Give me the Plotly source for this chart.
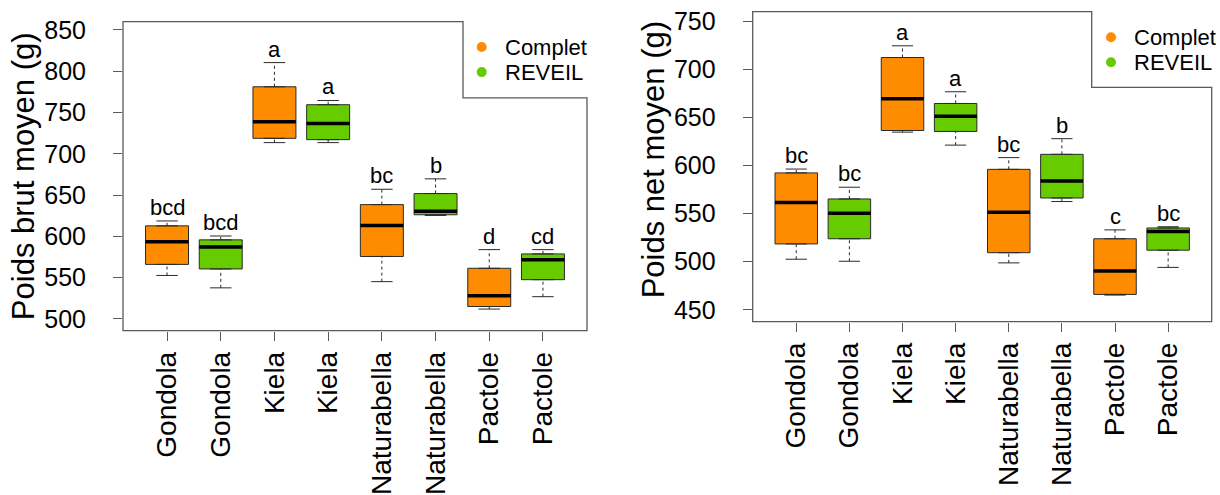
import plotly.graph_objects as go

# ---------------- data ----------------
categories = ["Gondola", "Gondola", "Kiela", "Kiela",
              "Naturabella", "Naturabella", "Pactole", "Pactole"]
groups = ["Complet", "REVEIL", "Complet", "REVEIL",
          "Complet", "REVEIL", "Complet", "REVEIL"]
legend_labels = ["Complet", "REVEIL"]

# Poids brut moyen (g)
brut_lower = [552.6, 537.6, 713.5, 713.5, 545.1, 625.3, 511.9, 526.9]
brut_q1 = [566.0, 560.5, 718.7, 717.1, 575.6, 626.1, 515.0, 547.5]
brut_median = [593.3, 587.0, 738.8, 736.5, 613.1, 630.5, 528.1, 571.6]
brut_q3 = [612.7, 595.7, 781.1, 759.4, 638.4, 651.8, 561.3, 578.7]
brut_upper = [618.6, 600.4, 810.4, 764.5, 657.0, 669.6, 583.9, 583.9]
brut_letters = ["bcd", "bcd", "a", "a", "bc", "b", "d", "cd"]

# Poids net moyen (g)
net_lower = [502.6, 500.5, 634.8, 621.3, 498.8, 562.6, 465.3, 494.1]
net_q1 = [518.5, 523.9, 636.5, 635.5, 509.4, 566.3, 466.0, 512.0]
net_median = [561.6, 550.4, 669.4, 651.4, 551.4, 583.9, 490.4, 531.4]
net_q3 = [592.4, 565.3, 712.4, 664.6, 596.1, 611.7, 523.9, 535.1]
net_upper = [596.4, 577.5, 724.6, 676.8, 608.3, 628.0, 533.1, 536.4]
net_letters = ["bc", "bc", "a", "a", "bc", "b", "c", "bc"]

brut_ticks = [500, 550, 600, 650, 700, 750, 800, 850]
net_ticks = [450, 500, 550, 600, 650, 700, 750]

# ---------------- style ----------------
COLORS = {"Complet": "#FF8C00", "REVEIL": "#66CC00"}
FONT = "Liberation Sans, Arial, sans-serif"
BOX_W = 0.8
CAP_W = 0.4
FRAME = "#5a5a5a"
W, H = 1220, 495

positions = list(range(1, len(categories) + 1))

fig = go.Figure()


def add_panel(xref, yref, lower, q1, med, q3, upper, letters):
    for g in legend_labels:
        idx = [i for i, gg in enumerate(groups) if gg == g]
        fig.add_trace(go.Box(
            x=[positions[i] for i in idx],
            q1=[q1[i] for i in idx],
            median=[med[i] for i in idx],
            q3=[q3[i] for i in idx],
            lowerfence=[q1[i] for i in idx],
            upperfence=[q3[i] for i in idx],
            width=BOX_W,
            fillcolor=COLORS[g],
            line=dict(color="#2a2a2a", width=1),
            boxpoints=False,
            showlegend=False,
            hoverinfo="skip",
            xaxis=xref, yaxis=yref,
        ))
    # dashed whiskers
    wx, wy = [], []
    for p, lo, a, b, hi in zip(positions, lower, q1, q3, upper):
        wx += [p, p, None, p, p, None]
        wy += [b, hi, None, lo, a, None]
    fig.add_trace(go.Scatter(x=wx, y=wy, mode="lines",
                             line=dict(color="#2a2a2a", width=1, dash="3px,3px"),
                             showlegend=False, hoverinfo="skip",
                             xaxis=xref, yaxis=yref))
    # caps
    cx, cy = [], []
    for p, lo, hi in zip(positions, lower, upper):
        cx += [p - CAP_W / 2, p + CAP_W / 2, None, p - CAP_W / 2, p + CAP_W / 2, None]
        cy += [hi, hi, None, lo, lo, None]
    fig.add_trace(go.Scatter(x=cx, y=cy, mode="lines",
                             line=dict(color="#2a2a2a", width=1),
                             showlegend=False, hoverinfo="skip",
                             xaxis=xref, yaxis=yref))
    # thick medians
    mx, my = [], []
    for p, m in zip(positions, med):
        mx += [p - BOX_W / 2, p + BOX_W / 2, None]
        my += [m, m, None]
    fig.add_trace(go.Scatter(x=mx, y=my, mode="lines",
                             line=dict(color="black", width=3.5),
                             showlegend=False, hoverinfo="skip",
                             xaxis=xref, yaxis=yref))
    # letters
    for p, hi, t in zip(positions, upper, letters):
        fig.add_annotation(x=p, y=hi, text=t, xref=xref, yref=yref,
                           showarrow=False, yanchor="bottom", yshift=-1,
                           font=dict(family=FONT, size=22, color="black"))


add_panel("x", "y", brut_lower, brut_q1, brut_median, brut_q3, brut_upper,
          brut_letters)
add_panel("x2", "y2", net_lower, net_q1, net_median, net_q3, net_upper,
          net_letters)


def add_legend(x_px, y_px, spacing):
    for k, g in enumerate(legend_labels):
        yp = 1 - (y_px + k * spacing) / H
        fig.add_shape(type="circle", xref="paper", yref="paper",
                      xsizemode="pixel", ysizemode="pixel",
                      xanchor=x_px / W, yanchor=yp,
                      x0=-5, x1=5, y0=-5, y1=5,
                      fillcolor=COLORS[g], line=dict(width=0))
        fig.add_annotation(text=g, xref="paper", yref="paper",
                           x=(x_px + 21) / W, y=yp, xanchor="left",
                           yanchor="middle", showarrow=False,
                           font=dict(family=FONT, size=22, color="black"))


add_legend(481.7, 42, 25.6)
add_legend(1111, 32, 25.6)

lx = [123 / W, 587 / W]
rx = [752.7 / W, 1211.7 / W]
ly = [1 - 332 / H, 1 - 16 / H]
ry = [1 - 322.7 / H, 1 - 5.7 / H]

xaxis_common = dict(
    range=[0.18, 8.82], tickmode="array", tickvals=positions, ticktext=categories,
    tickangle=-90, ticks="outside", ticklen=9, tickcolor=FRAME,
    showline=False, showgrid=False, zeroline=False,
    tickfont=dict(family=FONT, size=28, color="black"),
)
yaxis_common = dict(
    ticks="outside", ticklen=9, tickcolor=FRAME, tickmode="array",
    showline=False, showgrid=False, zeroline=False,
    tickfont=dict(family=FONT, size=25, color="black"),
    ticklabelstandoff=22,
)

fig.update_layout(
    width=W, height=H,
    margin=dict(l=0, r=0, t=0, b=0),
    paper_bgcolor="white", plot_bgcolor="white",
    boxmode="overlay",
    showlegend=False,
    xaxis=dict(domain=lx, anchor="y", **xaxis_common),
    yaxis=dict(domain=ly, anchor="x", range=[485.8, 860], tickvals=brut_ticks,
               **yaxis_common),
    xaxis2=dict(domain=rx, anchor="y2", **xaxis_common),
    yaxis2=dict(domain=ry, anchor="x2", range=[437.8, 760.2], tickvals=net_ticks,
                **yaxis_common),
)

# frames with notch where the legend sits
a1 = (463 - 123) / (587 - 123)
b1 = 1 - (94 - 16) / (332 - 16)
a2 = (1091.7 - 752.7) / (1211.7 - 752.7)
b2 = 1 - (83.3 - 5.7) / (322.7 - 5.7)
for xr, yr, a, b in [("x domain", "y domain", a1, b1), ("x2 domain", "y2 domain", a2, b2)]:
    fig.add_shape(type="path", xref=xr, yref=yr,
                  path=f"M 0 0 L 0 1 L {a} 1 L {a} {b} L 1 {b} L 1 0 Z",
                  line=dict(color=FRAME, width=1.3), fillcolor="rgba(0,0,0,0)")

# axis titles
fig.add_annotation(text="Poids brut moyen (g)", xref="paper", yref="y domain",
                   x=23 / W, y=0.5, xanchor="center", yanchor="middle",
                   textangle=-90, showarrow=False,
                   font=dict(family=FONT, size=31, color="black"))
fig.add_annotation(text="Poids net moyen (g)", xref="paper", yref="y2 domain",
                   x=653 / W, y=0.52, xanchor="center", yanchor="middle",
                   textangle=-90, showarrow=False,
                   font=dict(family=FONT, size=31, color="black"))

fig.write_html("out.html")
